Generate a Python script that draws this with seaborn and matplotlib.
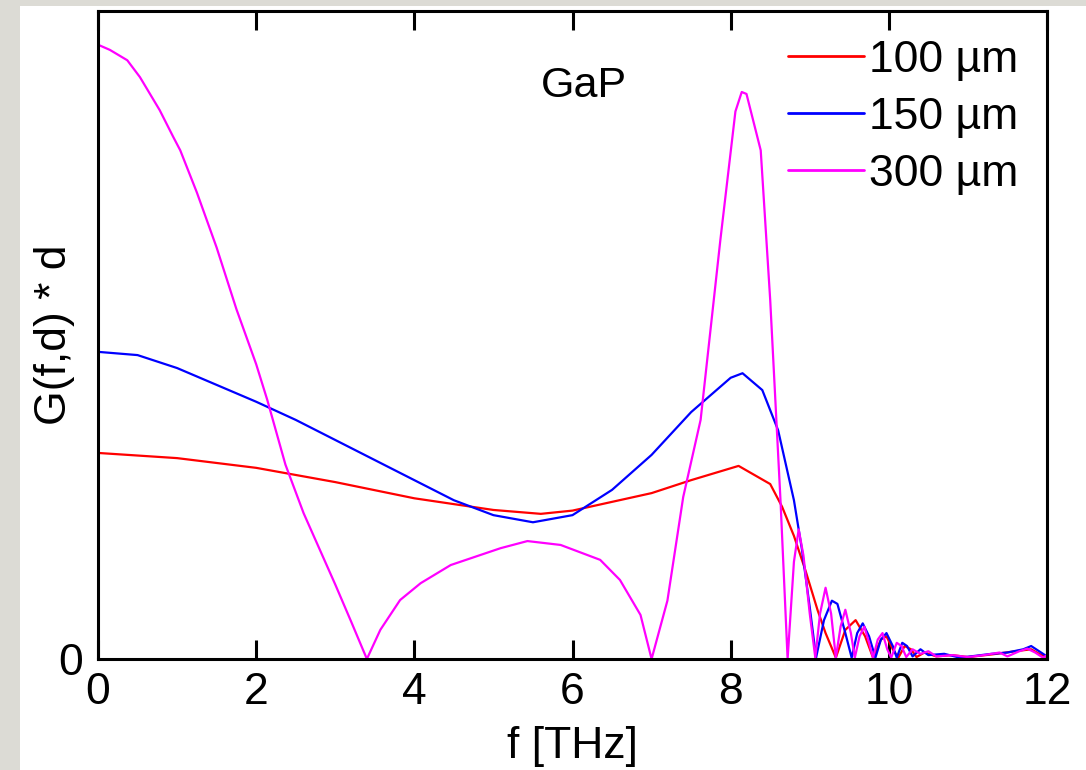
import matplotlib
matplotlib.use("Agg")
import matplotlib.pyplot as plt
import seaborn as sns
import pandas as pd
from matplotlib.patches import Rectangle

sns.set_theme(style="white")
plt.rcParams['font.family'] = ['Liberation Sans', 'DejaVu Sans']
plt.rcParams['text.color'] = 'black'
plt.rcParams['axes.labelcolor'] = 'black'
plt.rcParams['xtick.color'] = 'black'
plt.rcParams['ytick.color'] = 'black'

# frequency [THz] and G(f,d)*d (arbitrary units, axis top = 1.0)
f_100 = [0.0, 1.0, 2.0, 3.0, 4.0, 5.0, 5.6, 6.0, 7.0, 7.5, 8.1, 8.5, 8.65, 8.8, 8.95,
         9.1, 9.2, 9.33, 9.45, 9.58, 9.7, 9.8, 9.9, 9.97, 10.05, 10.12, 10.2, 10.28,
         10.35, 10.45, 10.6, 10.8, 11.0, 11.3, 11.6, 11.8, 11.9, 12.0]
g_100 = [0.318, 0.310, 0.295, 0.273, 0.248, 0.230, 0.224, 0.229, 0.256, 0.276, 0.298,
         0.270, 0.235, 0.190, 0.135, 0.075, 0.040, 0.002, 0.045, 0.060, 0.035, 0.002,
         0.030, 0.035, 0.015, 0.002, 0.020, 0.015, 0.003, 0.010, 0.004, 0.006, 0.003,
         0.007, 0.012, 0.015, 0.008, 0.003]

f_150 = [0.0, 0.5, 1.0, 1.5, 2.0, 2.5, 3.0, 3.5, 4.0, 4.5, 5.0, 5.5, 6.0, 6.5, 7.0, 7.5,
         8.0, 8.15, 8.4, 8.6, 8.8, 8.9, 9.0, 9.08, 9.18, 9.28, 9.35, 9.45, 9.53, 9.6,
         9.67, 9.75, 9.83, 9.9, 9.97, 10.05, 10.1, 10.17, 10.23, 10.3, 10.4, 10.5,
         10.7, 10.9, 11.1, 11.3, 11.5, 11.7, 11.8, 11.9, 12.0]
g_150 = [0.474, 0.469, 0.449, 0.423, 0.397, 0.369, 0.338, 0.307, 0.276, 0.245, 0.222,
         0.211, 0.222, 0.261, 0.315, 0.381, 0.434, 0.441, 0.415, 0.353, 0.245, 0.170,
         0.080, 0.002, 0.060, 0.090, 0.085, 0.040, 0.002, 0.040, 0.055, 0.035, 0.002,
         0.030, 0.040, 0.020, 0.002, 0.025, 0.020, 0.004, 0.015, 0.006, 0.008, 0.002,
         0.005, 0.008, 0.010, 0.015, 0.020, 0.012, 0.004]

f_300 = [0.0, 0.15, 0.37, 0.53, 0.78, 0.95, 1.04, 1.25, 1.5, 1.75, 2.0, 2.14, 2.37, 2.6,
         2.8, 3.0, 3.2, 3.4,
         3.57, 3.82, 4.08, 4.46, 5.09, 5.43, 5.85, 6.35, 6.6, 6.86, 7.0,
         7.2, 7.4, 7.62, 7.87, 8.06, 8.14, 8.2, 8.38, 8.5, 8.63, 8.72,
         8.80, 8.86, 8.92, 9.0, 9.07, 9.13, 9.2, 9.27, 9.33, 9.39, 9.45, 9.52, 9.57,
         9.63, 9.69, 9.75, 9.8, 9.86, 9.92, 9.98, 10.03, 10.1, 10.16, 10.22, 10.3,
         10.4, 10.5, 10.6, 10.8, 11.0, 11.2, 11.4, 11.5, 11.65, 11.75, 11.85, 11.95,
         12.0]
g_300 = [0.948, 0.940, 0.924, 0.898, 0.847, 0.806, 0.785, 0.720, 0.635, 0.540, 0.455,
         0.400, 0.300, 0.225, 0.170, 0.115, 0.058, 0.000,
         0.045, 0.091, 0.117, 0.145, 0.171, 0.182, 0.176, 0.153, 0.122, 0.068, 0.000,
         0.090, 0.250, 0.369, 0.647, 0.845, 0.875, 0.872, 0.785, 0.554, 0.245, 0.000,
         0.150, 0.200, 0.160, 0.070, 0.002, 0.070, 0.110, 0.070, 0.002, 0.050, 0.076,
         0.040, 0.002, 0.035, 0.050, 0.025, 0.002, 0.030, 0.040, 0.015, 0.002, 0.025,
         0.020, 0.003, 0.015, 0.008, 0.012, 0.004, 0.006, 0.003, 0.006, 0.010, 0.004,
         0.012, 0.016, 0.010, 0.002, 0.006]

labels = ["100 µm", "150 µm", "300 µm"]
colors = ["#ff0000", "#0000ff", "#ff00ff"]

df = pd.concat([
    pd.DataFrame({"f": f_100, "g": g_100, "d": labels[0]}),
    pd.DataFrame({"f": f_150, "g": g_150, "d": labels[1]}),
    pd.DataFrame({"f": f_300, "g": g_300, "d": labels[2]}),
])

W, H = 1086, 770
fig = plt.figure(figsize=(W / 100, H / 100), dpi=100)
fig.patch.set_facecolor("#dcdbd5")
bg = Rectangle((20 / W, 0), 1 - 20 / W, (H - 6) / H, transform=fig.transFigure,
               facecolor="white", edgecolor="none", zorder=-10)
fig.add_artist(bg)

ax = fig.add_axes([98 / W, (H - 659) / H, (1047 - 98) / W, (659 - 11) / H])
ax.set_facecolor("white")

sns.lineplot(data=df, x="f", y="g", hue="d", palette=colors, hue_order=labels,
             estimator=None, sort=False, linewidth=1.6, ax=ax)

ax.set_xlim(0, 12)
ax.set_ylim(0, 1.0)
ax.set_xticks([0, 2, 4, 6, 8, 10, 12])
ax.set_yticks([0])
ax.tick_params(axis="x", direction="in", length=14, width=2.2, labelsize=32,
               pad=9, top=True, bottom=True, colors="black")
ax.tick_params(axis="y", length=0, labelsize=32, pad=11, colors="black")
for s in ax.spines.values():
    s.set_linewidth(2.2)
    s.set_color("black")
    s.set_visible(True)

ax.set_xlabel("f [THz]", fontsize=32, labelpad=10, color="black")
ax.set_ylabel("G(f,d) * d", fontsize=32, labelpad=-12, color="black")

ax.text(6.15, 0.885, "GaP", fontsize=31, ha="center", va="center", color="black")

leg = ax.legend(loc="upper right", frameon=False, fontsize=32, handlelength=1.7,
                handletextpad=0.11, labelspacing=0.36, borderaxespad=0.35,
                borderpad=0.3)
for t in leg.get_texts():
    t.set_color("black")
for line in leg.get_lines():
    line.set_linewidth(2.0)

fig.savefig("out.png", dpi=100, facecolor=fig.get_facecolor())
